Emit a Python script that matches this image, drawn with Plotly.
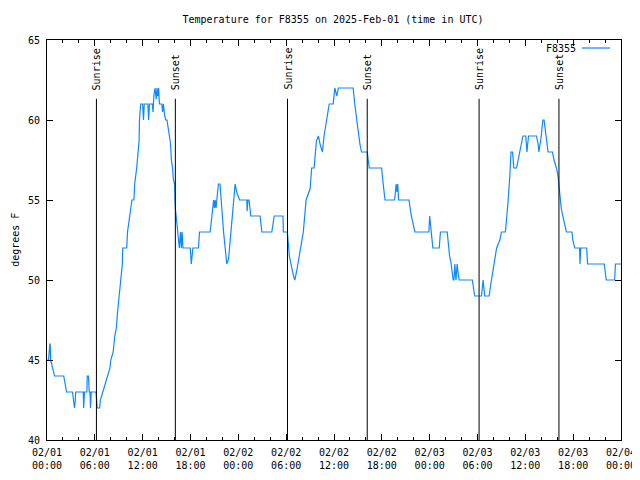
import pandas as pd
import plotly.graph_objects as go

# ---- data (hours since 2025-02-01 00:00 UTC, temperature in F) ----
hours = [
    0.0, 0.2, 0.35, 0.4, 0.45, 0.7, 0.95, 2.1, 2.3, 2.45, 3.2, 3.3, 3.45, 3.55, 3.6,
    4.55, 4.6, 4.7, 5.0, 5.05, 5.2, 5.3, 5.4, 5.45, 5.55, 6.15, 6.3, 6.6, 6.7, 7.0,
    7.3, 7.6, 7.9, 8.0, 8.3, 8.5, 8.7, 8.85, 9.05, 9.3, 9.45, 9.5, 10.0, 10.1, 10.35,
    10.5, 10.65, 10.9, 11.0, 11.25, 11.4, 11.55, 11.6, 11.75, 12.0, 12.1, 12.2, 12.65,
    12.75, 12.85, 13.2, 13.3, 13.4, 13.55, 13.7, 13.8, 13.9, 14.0, 14.1, 14.4, 14.5,
    14.6, 14.75, 14.9, 15.05, 15.3, 15.5, 15.6, 15.75, 15.85, 16.0, 16.05, 16.1,
    16.3, 16.6, 16.75, 16.85, 16.95, 17.05, 17.97, 18.05, 18.1, 18.2, 18.3, 19.0,
    19.13, 20.47, 20.7, 20.9, 21.0, 21.1, 21.2, 21.5, 21.7, 21.9, 22.15, 22.35,
    22.55, 22.77, 22.97, 23.19, 23.4, 23.6, 23.8, 24.15, 25.07, 25.1, 25.2, 25.35,
    25.45, 25.55, 26.73, 26.95, 28.2, 28.5, 29.6, 29.65, 30.15, 30.4, 30.9, 31.08,
    31.3, 31.75, 32.15, 32.5, 33.0, 33.2, 33.5, 33.8, 34.05, 34.25, 34.55, 34.75,
    35.1, 35.4, 35.9, 36.1, 36.35, 36.55, 36.67, 38.4, 38.6, 38.85, 39.05, 39.25,
    39.45, 40.17, 40.42, 41.97, 42.17, 42.4, 43.6, 43.8, 43.9, 44.0, 44.1, 45.4,
    45.7, 46.15, 47.9, 48.0, 48.1, 48.25, 48.4, 49.2, 49.35, 50.2, 50.5, 50.7,
    50.95, 51.05, 51.15, 51.3, 51.45, 51.55, 51.7, 53.35, 53.65, 54.5, 54.7, 54.9,
    55.45, 55.75, 56.05, 56.4, 56.8, 57.0, 57.5, 57.7, 57.85, 58.05, 58.2, 58.4,
    58.55, 58.9, 59.1, 59.3, 59.5, 59.7, 60.05, 60.2, 60.4, 60.6, 61.4, 61.6, 61.7,
    62.0, 62.2, 62.35, 62.45, 62.6, 62.85, 63.4, 63.6, 63.9, 64.1, 64.3, 64.5, 64.7,
    64.9, 65.15, 65.85, 65.95, 66.2, 66.8, 66.85, 66.95, 67.7, 67.8, 69.9, 70.15,
    71.2, 71.3, 72.0,
]
temps = [
    45, 45, 46, 46, 45, 44.5, 44, 44, 43.5, 43, 43, 42.5, 42, 42.5, 43,
    43, 42, 43, 43, 44, 44, 43, 43, 42, 43, 43, 42, 42, 42.5, 43,
    43.5, 44, 44.5, 45, 45.5, 46.5, 47, 48, 49, 50.5, 51, 52, 52, 53, 54,
    54.5, 55, 55, 56, 57, 58, 58.7, 60, 61, 61, 60, 61, 61,
    60, 61, 61, 60.5, 61.5, 62, 61.3, 62, 61.5, 62, 61, 61, 60.5,
    61, 60.3, 60, 60, 59.3, 58.5, 57.5, 57, 56.3, 56, 55, 54.5,
    53.5, 52, 53, 52, 53, 52, 52, 51.5, 51, 51.5, 52, 52,
    53, 53, 54, 55, 54.5, 55, 54.5, 56, 56, 54.5, 53, 52,
    51, 51.3, 52.5, 54, 55.3, 56, 55.5, 55, 55, 54.3, 55, 55,
    54.5, 54, 54, 53, 53, 54, 54, 53, 53, 51.5, 50.3, 50,
    50.5, 51.7, 53, 55, 55.7, 57, 57, 58.7, 59, 58.5, 58, 59,
    60, 61, 61, 62, 61.5, 62, 62, 62, 61, 60, 59, 58.5,
    58, 58, 57, 57, 56, 55, 55, 56, 55.5, 56, 55, 55,
    54, 53, 53, 54, 53.5, 52.5, 52, 52, 53, 53, 51.5, 51,
    50, 50, 51, 50, 51, 50.5, 50, 50, 49, 49, 50, 49,
    49, 50, 51, 52, 52.5, 53, 53, 54, 55, 56.5, 58, 58,
    57, 57, 57.5, 58, 58.5, 59, 59, 58, 59, 59, 59, 58.5, 58,
    59, 60, 60, 59.5, 59, 58, 58, 57.5, 57, 56.5, 55.5, 54.5, 54,
    53.5, 53, 53, 52.5, 52, 52, 51, 52, 52, 51, 51, 50,
    50, 51, 51,
]

sunrise_times = ["2025-02-01 06:12", "2025-02-02 06:10", "2025-02-03 06:12"]
sunset_times = ["2025-02-01 16:06", "2025-02-02 16:10", "2025-02-03 16:13"]

station = "F8355"
title_text = "Temperature for F8355 on 2025-Feb-01 (time in UTC)"
y_label = "degrees F"

start = pd.Timestamp("2025-02-01 00:00")
end = pd.Timestamp("2025-02-04 00:00")
times = start + pd.to_timedelta(hours, unit="h")

FONT = "DejaVu Sans Mono"
LINE_COLOR = "#0f88ff"

# the page body has an 8px margin; size the figure so it fills the window
W, H = 632, 472

fig = go.Figure()
fig.add_trace(go.Scatter(
    x=times, y=temps, mode="lines",
    line=dict(color=LINE_COLOR, width=1.2),
    name=station, showlegend=False,
))

# sunrise / sunset markers
for label, tlist in (("Sunrise", sunrise_times), ("Sunset", sunset_times)):
    for t in tlist:
        fig.add_shape(type="line", x0=t, x1=t, xref="x", y0=0, y1=0.853,
                      yref="y domain", line=dict(color="black", width=1))
        fig.add_annotation(x=t, xref="x", y=0.87, yref="y domain",
                           text=label, textangle=-90, showarrow=False,
                           xanchor="center", yanchor="bottom",
                           font=dict(family=FONT, size=10, color="black"))

# legend (gnuplot style: text then sample line)
fig.add_annotation(x=0.925, xref="paper", y=0.98, yref="paper", text=station,
                   showarrow=False, xanchor="right", yanchor="middle",
                   font=dict(family=FONT, size=10, color="black"))
fig.add_shape(type="line", x0=0.932, x1=0.981, xref="paper", y0=0.98, y1=0.98,
              yref="paper", line=dict(color=LINE_COLOR, width=1.2))

# y-axis label
fig.add_annotation(x=-0.056, xref="paper", y=0.5, yref="paper", text=y_label,
                   textangle=-90, showarrow=False, xanchor="center", yanchor="middle",
                   font=dict(family=FONT, size=10, color="black"))

fig.update_layout(
    width=W, height=H,
    margin=dict(l=39, r=19, t=32, b=40, pad=0, autoexpand=False),
    paper_bgcolor="white", plot_bgcolor="white",
    font=dict(family=FONT, size=10, color="black"),
    title=dict(text=title_text, x=325 / W, xref="container", y=1 - 11 / H,
               yref="container", xanchor="center", yanchor="middle",
               font=dict(family=FONT, size=10, color="black")),
    showlegend=False,
)
fig.update_xaxes(
    type="date", range=[start, end], showgrid=False, zeroline=False,
    automargin=False,
    showline=True, linecolor="black", linewidth=1, mirror="allticks",
    ticks="inside", ticklen=6, tickcolor="black", tickwidth=1,
    tick0=start, dtick=6 * 3600 * 1000, tickformat="%m/%d<br>%H:%M",
    ticklabelstandoff=3,
    minor=dict(ticks="inside", ticklen=3, dtick=2 * 3600 * 1000, tick0=start,
               tickcolor="black", showgrid=False),
    tickfont=dict(family=FONT, size=10),
)
fig.update_yaxes(
    range=[40, 65], showgrid=False, zeroline=False, automargin=False,
    showline=True, linecolor="black", linewidth=1, mirror="allticks",
    ticks="inside", ticklen=6, tickcolor="black", tickwidth=1,
    ticklabelstandoff=4,
    tick0=40, dtick=5, tickfont=dict(family=FONT, size=10),
)

fig.write_html("out.html")
